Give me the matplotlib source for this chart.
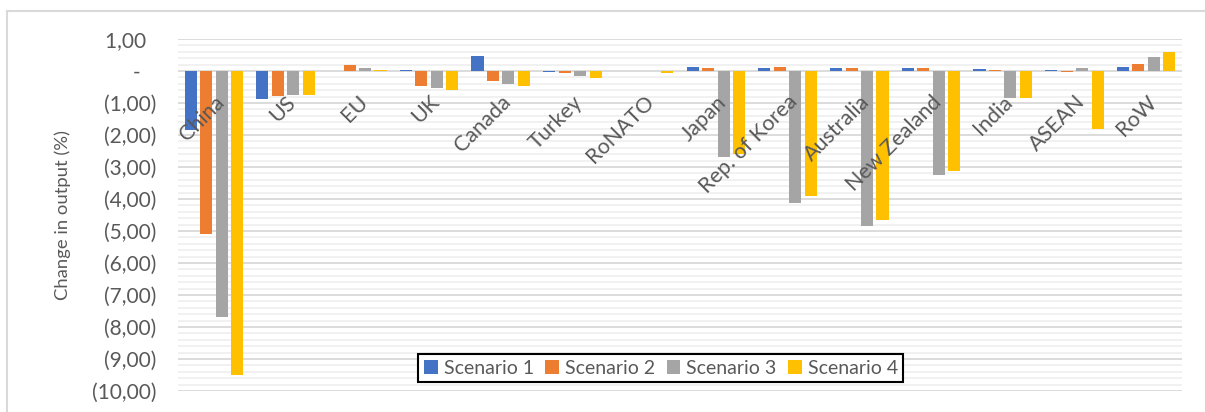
import matplotlib
matplotlib.use("Agg")
import matplotlib.pyplot as plt
import numpy as np
from matplotlib.ticker import FuncFormatter, MultipleLocator
from matplotlib.lines import Line2D

categories = ["China", "US", "EU", "UK", "Canada", "Turkey", "RoNATO", "Japan",
              "Rep. of Korea", "Australia", "New Zealand", "India", "ASEAN", "RoW"]
scenario_1 = [-1.84, -0.88, 0.01, 0.03, 0.46, -0.02, 0.00, 0.12, 0.10, 0.08, 0.08, 0.07, 0.03, 0.13]
scenario_2 = [-5.09, -0.77, 0.18, -0.48, -0.30, -0.07, 0.01, 0.10, 0.13, 0.10, 0.08, 0.04, -0.02, 0.21]
scenario_3 = [-7.69, -0.74, 0.09, -0.54, -0.40, -0.17, -0.01, -2.70, -4.11, -4.85, -3.24, -0.85, 0.10, 0.45]
scenario_4 = [-9.50, -0.74, 0.04, -0.60, -0.46, -0.23, -0.05, -2.58, -3.90, -4.66, -3.13, -0.84, -1.80, 0.60]
series_names = ["Scenario 1", "Scenario 2", "Scenario 3", "Scenario 4"]
colors = ["#4472C4", "#ED7D31", "#A5A5A5", "#FFC000"]
y_label = "Change in output (%)"

plt.rcParams['font.family'] = ['Lato', 'DejaVu Sans']
text_color = "#595959"

fig = plt.figure(figsize=(12.05, 4.12), dpi=100)
ax = fig.add_axes([178/1205, 21/412, 1004/1205, 352/412])

x = np.arange(len(categories))
step = 0.216
width = 0.168
all_series = [scenario_1, scenario_2, scenario_3, scenario_4]
for k, (vals, name, c) in enumerate(zip(all_series, series_names, colors)):
    ax.bar(x + (k - 1.5) * step, vals, width=width, color=c, label=name, zorder=3)

ax.set_xlim(-0.5, len(categories) - 0.5)
ax.set_ylim(-10, 1)
ax.yaxis.set_major_locator(MultipleLocator(1))
ax.yaxis.set_minor_locator(MultipleLocator(0.2))
ax.grid(which='major', axis='y', color='#d9d9d9', linewidth=1.3, zorder=1)
ax.grid(which='minor', axis='y', color='#f0f0f0', linewidth=1.3, zorder=0)
ax.set_axisbelow(True)
ax.tick_params(axis='y', which='both', length=0, pad=15.5, labelsize=15, labelcolor=text_color)

def fmt(v, pos):
    if abs(v) < 1e-9:
        return "-   "
    if v > 0:
        return f"{v:.2f}".replace('.', ',') + "  "
    return "(" + f"{-v:.2f}".replace('.', ',') + ")"
ax.yaxis.set_major_formatter(FuncFormatter(fmt))

for s in ['top', 'right', 'left', 'bottom']:
    ax.spines[s].set_visible(False)
ax.set_xticks([])

for i, cat in enumerate(categories):
    ax.annotate(cat, xy=(i, 0), xycoords='data', xytext=(0, -15), textcoords='offset points',
                rotation=45, ha='right', va='top', rotation_mode='anchor',
                fontsize=15.5, color=text_color, zorder=10, annotation_clip=False)

ax.set_ylabel(y_label, fontsize=13.3, color=text_color, labelpad=15)

leg = ax.legend(loc='center', bbox_to_anchor=(0.481, 0.065), ncol=4, frameon=True,
                fontsize=14, handlelength=0.7, handleheight=0.7, handletextpad=0.3,
                columnspacing=0.6, borderpad=0.3, fancybox=False, labelcolor=text_color)
leg.get_frame().set_edgecolor('black')
leg.get_frame().set_linewidth(1.5)
leg.get_frame().set_facecolor('white')
leg.get_frame().set_alpha(1)
leg.set_zorder(20)

fig.add_artist(Line2D([7/1205, 7/1205], [0, 1 - 11/412], transform=fig.transFigure, color='#d9d9d9', linewidth=1.5))
fig.add_artist(Line2D([7/1205, 1], [1 - 11/412, 1 - 11/412], transform=fig.transFigure, color='#d9d9d9', linewidth=1.5))

fig.savefig("out.png", dpi=100)
